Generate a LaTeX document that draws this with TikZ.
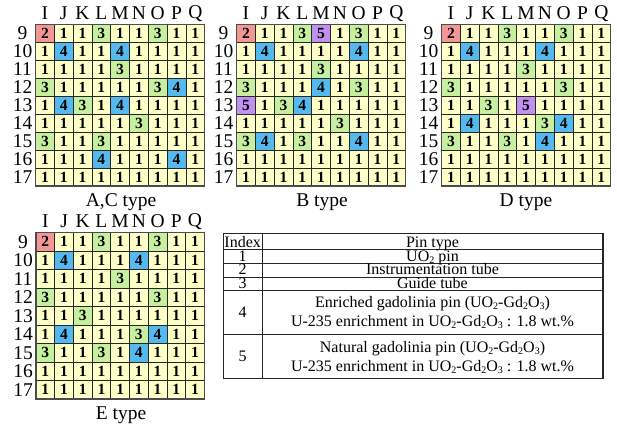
\documentclass[tikz,border=0pt]{standalone}
\usepackage{fontspec}
\setmainfont{Liberation Serif}
\definecolor{pin1}{RGB}{255,255,200}
\definecolor{pin2}{RGB}{242,150,150}
\definecolor{pin3}{RGB}{198,240,160}
\definecolor{pin4}{RGB}{85,185,240}
\definecolor{pin5}{RGB}{192,145,240}
\newcommand\sub[1]{\raisebox{-0.15em}{\fontsize{10}{10}\selectfont #1}}
\tikzset{
  cell/.style={draw=black!85, line width=0.8pt, inner sep=0pt, font=\bfseries\fontsize{15.5}{15.5}\selectfont},
  frame/.style={draw=black!70, line width=1.2pt},
  lab/.style={inner sep=0pt, font=\fontsize{19.5}{19.5}\selectfont},
  tframe/.style={draw=black!85, line width=1.2pt},
  tline/.style={draw=black!85, line width=0.7pt},
  ttext/.style={inner sep=0pt, anchor=base, font=\fontsize{16}{16}\selectfont},
  tnum/.style={inner sep=0pt, font=\fontsize{16}{16}\selectfont}
}
\newcommand\pingrid[6]{%
  \foreach \rw [count=\ri] in {#6} {
    \foreach \v [count=\ci] in \rw {
      \node[cell, fill=pin\v, minimum width=#4pt, minimum height=#5pt] (#1-\ri-\ci)
        at ({#2+(\ci-0.5)*#4},{#3+(\ri-0.5)*#5}) {\v};
    }
  }
  \draw[frame] (#2,#3) rectangle ({#2+9*#4},{#3+9*#5});
  \foreach \L [count=\ci] in {I,J,K,L,M,N,O,P,Q}
    \node[lab] (#1-col-\ci) at ({#2+(\ci-0.5)*#4},{#3-11}) {\L};
  \foreach \n [count=\ri] in {9,...,17}
    \node[lab] (#1-row-\ri) at ({#2-13},{#3+(\ri-0.5)*#5}) {\n};
}
\begin{document}
\begin{tikzpicture}[x=1pt,y=-1pt]
\useasboundingbox (0,0) rectangle (617,432);
% A,C type
\pingrid{ac}{35.5}{24.5}{18.8}{17.95}{%
 {2,1,1,3,1,1,3,1,1},
 {1,4,1,1,4,1,1,1,1},
 {1,1,1,1,3,1,1,1,1},
 {3,1,1,1,1,1,3,4,1},
 {1,4,3,1,4,1,1,1,1},
 {1,1,1,1,1,3,1,1,1},
 {3,1,1,3,1,1,1,1,1},
 {1,1,1,4,1,1,1,4,1},
 {1,1,1,1,1,1,1,1,1}}
\node[lab] (actype) at (121,202) {A,C type};
% B type
\pingrid{b}{236.5}{24.5}{18.8}{17.95}{%
 {2,1,1,3,5,1,3,1,1},
 {1,4,1,1,1,1,4,1,1},
 {1,1,1,1,3,1,1,1,1},
 {3,1,1,1,4,1,3,1,1},
 {5,1,3,4,1,1,1,1,1},
 {1,1,1,1,1,3,1,1,1},
 {3,4,1,3,1,1,4,1,1},
 {1,1,1,1,1,1,1,1,1},
 {1,1,1,1,1,1,1,1,1}}
\node[lab] (btype) at (322,202) {B type};
% D type
\pingrid{d}{441.5}{24.5}{18.8}{17.95}{%
 {2,1,1,3,1,1,3,1,1},
 {1,4,1,1,1,4,1,1,1},
 {1,1,1,1,3,1,1,1,1},
 {3,1,1,1,1,1,3,1,1},
 {1,1,3,1,5,1,1,1,1},
 {1,4,1,1,1,3,4,1,1},
 {3,1,1,3,1,4,1,1,1},
 {1,1,1,1,1,1,1,1,1},
 {1,1,1,1,1,1,1,1,1}}
\node[lab] (dtype) at (526,202) {D type};
% E type
\pingrid{e}{36}{232.5}{18.7}{18.5}{%
 {2,1,1,3,1,1,3,1,1},
 {1,4,1,1,1,4,1,1,1},
 {1,1,1,1,3,1,1,1,1},
 {3,1,1,1,1,1,3,1,1},
 {1,1,3,1,1,1,1,1,1},
 {1,4,1,1,1,3,4,1,1},
 {3,1,1,3,1,4,1,1,1},
 {1,1,1,1,1,1,1,1,1},
 {1,1,1,1,1,1,1,1,1}}
\node[lab] (etype) at (121,415) {E type};
% table
\draw[tline] (262,233.5) -- (262,378.5);
\foreach \yy in {249.5,263.5,277,290.5,334}
  \draw[tline] (223.5,\yy) -- (603,\yy);
\draw[tframe] (223.5,233.5) rectangle (603,378.5);
\node[ttext] (h1) at (242.7,247.2) {Index};
\node[ttext] (h2) at (432.5,247.2) {Pin type};
\node[ttext] (i1) at (242.7,261.3) {1};
\node[ttext] (t1) at (432.5,261.3) {UO\sub{2} pin};
\node[ttext] (i2) at (242.7,274.9) {2};
\node[ttext] (t2) at (432.5,274.9) {Instrumentation tube};
\node[ttext] (i3) at (242.7,288.4) {3};
\node[ttext] (t3) at (432.5,288.4) {Guide tube};
\node[tnum] (i4) at (242.7,312) {4};
\node[ttext] (t4a) at (432.5,307.5) {Enriched gadolinia pin (UO\sub{2}-Gd\sub{2}O\sub{3})};
\node[ttext] (t4b) at (432.5,326.5) {U-235 enrichment in UO\sub{2}-Gd\sub{2}O\sub{3} : 1.8 wt.\%};
\node[tnum] (i5) at (242.7,356) {5};
\node[ttext] (t5a) at (432.5,352) {Natural gadolinia pin (UO\sub{2}-Gd\sub{2}O\sub{3})};
\node[ttext] (t5b) at (432.5,371) {U-235 enrichment in UO\sub{2}-Gd\sub{2}O\sub{3} : 1.8 wt.\%};
\end{tikzpicture}
\end{document}
